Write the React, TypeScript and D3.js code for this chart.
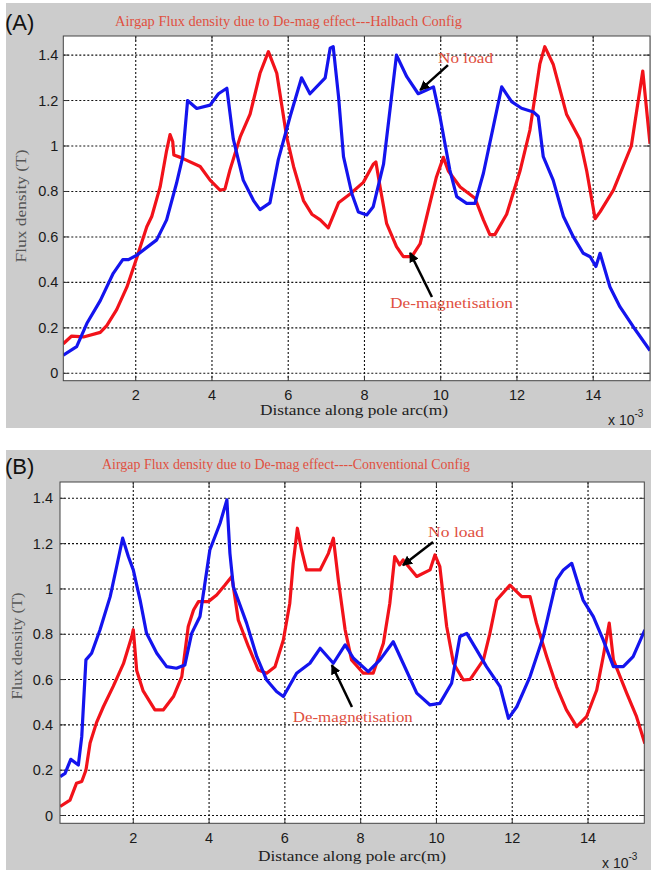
import React from 'react';
import * as d3 from 'd3';

// ---------- DATA ----------
const xTicks = [2, 4, 6, 8, 10, 12, 14];
const yTicks = [0, 0.2, 0.4, 0.6, 0.8, 1, 1.2, 1.4];
const yTickLabels = ['0', '0.2', '0.4', '0.6', '0.8', '1', '1.2', '1.4'];

// Panel A (Halbach) — red: de-magnetisation, blue: no load
const halbachDemag: [number, number][] = [
  [0.1, 0.13], [0.32, 0.164], [0.63, 0.16], [1.07, 0.18], [1.24, 0.21], [1.5, 0.28], [1.77, 0.38],
  [2.03, 0.51], [2.29, 0.645], [2.42, 0.69], [2.64, 0.82], [2.81, 0.98], [2.9, 1.05], [2.97, 1.02],
  [3.0, 0.96], [3.17, 0.95], [3.69, 0.91], [3.95, 0.85], [4.21, 0.806], [4.34, 0.81], [4.47, 0.894],
  [4.74, 1.04], [5.0, 1.14], [5.26, 1.32], [5.48, 1.415], [5.7, 1.32], [5.96, 1.04], [6.14, 0.91],
  [6.4, 0.76], [6.62, 0.7], [6.84, 0.675], [7.05, 0.64], [7.32, 0.75], [7.63, 0.79], [7.97, 0.84],
  [8.23, 0.92], [8.3, 0.93], [8.41, 0.82], [8.58, 0.66], [8.84, 0.557], [9.02, 0.513], [9.24, 0.513],
  [9.46, 0.57], [9.72, 0.75], [9.89, 0.865], [10.07, 0.95], [10.2, 0.89], [10.51, 0.82], [10.9, 0.77],
  [11.12, 0.675], [11.29, 0.61], [11.42, 0.61], [11.73, 0.7], [12.08, 0.89], [12.34, 1.07], [12.6, 1.36],
  [12.73, 1.437], [12.95, 1.36], [13.3, 1.14], [13.65, 1.03], [13.83, 0.89], [14.05, 0.68], [14.18, 0.71],
  [14.53, 0.806], [15.0, 1.0], [15.3, 1.33], [15.49, 1.01],
];
const halbachNoLoad: [number, number][] = [
  [0.1, 0.08], [0.45, 0.117], [0.72, 0.22], [1.07, 0.32], [1.41, 0.44], [1.66, 0.5], [1.81, 0.5],
  [2.03, 0.52], [2.55, 0.587], [2.81, 0.675], [3.07, 0.836], [3.23, 0.95], [3.36, 1.2], [3.6, 1.165],
  [3.95, 1.18], [4.17, 1.23], [4.39, 1.254], [4.56, 1.03], [4.82, 0.85], [5.09, 0.76], [5.26, 0.72],
  [5.52, 0.75], [5.74, 0.94], [6.05, 1.13], [6.35, 1.3], [6.57, 1.23], [6.97, 1.3], [7.1, 1.43],
  [7.18, 1.437], [7.32, 1.217], [7.45, 0.953], [7.67, 0.79], [7.84, 0.71], [8.06, 0.697], [8.23, 0.733],
  [8.5, 0.92], [8.71, 1.217], [8.84, 1.4], [9.11, 1.305], [9.41, 1.23], [9.63, 1.246], [9.81, 1.26],
  [9.98, 1.13], [10.24, 0.894], [10.42, 0.777], [10.68, 0.748], [10.9, 0.748], [11.12, 0.88], [11.38, 1.085],
  [11.6, 1.26], [11.86, 1.195], [12.12, 1.166], [12.43, 1.15], [12.56, 1.13], [12.69, 0.953], [12.95, 0.85],
  [13.22, 0.69], [13.48, 0.6], [13.74, 0.528], [13.92, 0.513], [14.07, 0.47], [14.18, 0.528], [14.44, 0.38],
  [14.7, 0.293], [15.05, 0.205], [15.49, 0.1],
];

// Panel B (Conventional) — red: no load, blue: de-magnetisation
const conventionalNoLoad: [number, number][] = [
  [0.07, 0.04], [0.33, 0.068], [0.5, 0.142], [0.64, 0.15], [0.75, 0.2], [0.86, 0.32], [1.03, 0.41],
  [1.21, 0.48], [1.47, 0.57], [1.74, 0.67], [1.96, 0.79], [2.0, 0.82], [2.09, 0.64], [2.26, 0.55],
  [2.57, 0.466], [2.79, 0.466], [3.06, 0.525], [3.28, 0.613], [3.45, 0.834], [3.59, 0.907], [3.72, 0.944],
  [3.98, 0.944], [4.2, 0.973], [4.42, 1.017], [4.6, 1.055], [4.68, 0.966], [4.77, 0.863], [5.04, 0.745],
  [5.3, 0.642], [5.52, 0.628], [5.74, 0.657], [5.96, 0.775], [6.13, 0.937], [6.22, 1.113], [6.33, 1.268],
  [6.44, 1.172], [6.57, 1.084], [6.93, 1.084], [7.15, 1.157], [7.28, 1.224], [7.41, 1.04], [7.59, 0.82],
  [7.76, 0.687], [8.07, 0.628], [8.33, 0.628], [8.6, 0.76], [8.77, 0.937], [8.9, 1.143], [9.03, 1.106],
  [9.12, 1.128], [9.48, 1.055], [9.83, 1.084], [9.96, 1.15], [10.09, 1.098], [10.27, 0.834], [10.45, 0.672],
  [10.71, 0.598], [10.89, 0.601], [11.24, 0.687], [11.41, 0.804], [11.59, 0.951], [11.94, 1.017],
  [12.25, 0.966], [12.47, 0.966], [12.64, 0.849], [12.91, 0.701], [13.17, 0.569], [13.43, 0.466],
  [13.7, 0.392], [13.96, 0.436], [14.23, 0.554], [14.4, 0.701], [14.56, 0.849], [14.67, 0.687],
  [15.02, 0.54], [15.28, 0.436], [15.5, 0.318],
];
const conventionalDemag: [number, number][] = [
  [0.07, 0.172], [0.2, 0.186], [0.35, 0.248], [0.55, 0.223], [0.64, 0.348], [0.75, 0.687], [0.9, 0.716],
  [1.12, 0.819], [1.39, 0.966], [1.56, 1.098], [1.72, 1.224], [1.87, 1.143], [2.0, 1.084], [2.18, 0.951],
  [2.35, 0.804], [2.62, 0.716], [2.88, 0.657], [3.14, 0.65], [3.36, 0.664], [3.54, 0.804], [3.76, 0.878],
  [4.02, 1.172], [4.29, 1.29], [4.47, 1.393], [4.55, 1.157], [4.64, 1.01], [4.99, 0.849], [5.26, 0.701],
  [5.52, 0.598], [5.78, 0.547], [5.96, 0.525], [6.31, 0.628], [6.66, 0.672], [6.93, 0.738], [7.28, 0.672],
  [7.59, 0.753], [7.81, 0.694], [8.2, 0.635], [8.51, 0.687], [8.86, 0.767], [9.12, 0.672], [9.48, 0.54],
  [9.83, 0.488], [10.09, 0.495], [10.4, 0.584], [10.62, 0.79], [10.8, 0.804], [11.06, 0.731], [11.32, 0.657],
  [11.68, 0.569], [11.9, 0.429], [12.12, 0.48], [12.47, 0.613], [12.82, 0.79], [13.17, 1.04], [13.35, 1.084],
  [13.57, 1.113], [13.87, 0.951], [14.14, 0.878], [14.4, 0.775], [14.67, 0.657], [14.93, 0.657],
  [15.19, 0.701], [15.5, 0.819],
];

const titleA = 'Airgap Flux density due to De-mag effect---Halbach Config';
const titleB = 'Airgap Flux density due to De-mag effect----Conventional Config';
const xLabel = 'Distance along pole arc(m)';
const yLabel = 'Flux density (T)';

// ---------- RENDERING ----------
type Pt = [number, number];
interface Ann { text: string; tx: number; ty: number; head: Pt; tail: Pt; tlen: number }
interface PanelCfg {
  id: string;
  tag: string;
  title: string;
  titleX: number; titleY: number; titleLen: number;
  bgTop: number; bgBottom: number;
  left: number; right: number; top: number; bottom: number;
  xDomain: [number, number]; yDomain: [number, number];
  red: Pt[]; blue: Pt[];
  ann: Ann[];
  yLabX: number; yLabY: number; yLabLen: number;
  xLabY: number; xLabX: number;
  tickLabY: number; yTickOff: number;
  expX: number; expY: number;
  tagY: number;
}

const RED = '#f2121a';
const BLUE = '#1414ee';
const TXT_RED = '#e0503f';

function Panel({ c }: { c: PanelCfg }) {
  const x = d3.scaleLinear().domain(c.xDomain).range([c.left, c.right]);
  const y = d3.scaleLinear().domain(c.yDomain).range([c.bottom, c.top]);
  const line = d3.line<Pt>().x(d => x(d[0])).y(d => y(d[1]));
  const tl = 5;
  return (
    <g>
      <rect x={6} y={c.bgTop} width={651 - 6} height={c.bgBottom - c.bgTop} fill="#cccccc" />
      <text x={5} y={c.tagY} fontFamily="Liberation Sans, Arial, sans-serif" fontSize={22} fill="#111">{c.tag}</text>
      <text x={c.titleX} y={c.titleY} fontFamily="Liberation Serif, Times New Roman, serif" fontSize={15}
        fill={TXT_RED} textLength={c.titleLen} lengthAdjust="spacingAndGlyphs">{c.title}</text>
      <rect x={c.left} y={c.top} width={c.right - c.left} height={c.bottom - c.top} fill="#fff" />
      <defs>
        <clipPath id={`clip-${c.id}`}>
          <rect x={c.left} y={c.top} width={c.right - c.left} height={c.bottom - c.top} />
        </clipPath>
        <marker id={`arr-${c.id}`} viewBox="0 0 10 10" refX={9} refY={5} markerWidth={4} markerHeight={4}
          orient="auto" markerUnits="strokeWidth">
          <path d="M0,0 L10,5 L0,10 z" fill="#000" />
        </marker>
      </defs>
      {/* grid */}
      {xTicks.map(t => (
        <line key={`gx${t}`} x1={x(t)} x2={x(t)} y1={c.top} y2={c.bottom} stroke="#111" strokeWidth={1.1} strokeDasharray="2,2" />
      ))}
      {yTicks.map(t => (
        <line key={`gy${t}`} x1={c.left} x2={c.right} y1={y(t)} y2={y(t)} stroke="#111" strokeWidth={1.1} strokeDasharray="2,2" />
      ))}
      {/* ticks */}
      {xTicks.map(t => (
        <g key={`tx${t}`}>
          <line x1={x(t)} x2={x(t)} y1={c.bottom} y2={c.bottom - tl} stroke="#333" />
          <line x1={x(t)} x2={x(t)} y1={c.top} y2={c.top + tl} stroke="#333" />
          <text x={x(t)} y={c.tickLabY} textAnchor="middle" fontFamily="Liberation Sans, Arial, sans-serif" fontSize={14.5} fill="#1a1a1a">{t}</text>
        </g>
      ))}
      {yTicks.map((t, i) => (
        <g key={`ty${t}`}>
          <line x1={c.left} x2={c.left + tl} y1={y(t)} y2={y(t)} stroke="#333" />
          <line x1={c.right} x2={c.right - tl} y1={y(t)} y2={y(t)} stroke="#333" />
          <text x={c.left - c.yTickOff} y={y(t) + 5} textAnchor="end" fontFamily="Liberation Sans, Arial, sans-serif" fontSize={14.5} fill="#1a1a1a">{yTickLabels[i]}</text>
        </g>
      ))}
      {/* curves */}
      <g clipPath={`url(#clip-${c.id})`}>
        <path d={line(c.red) || ''} fill="none" stroke={RED} strokeWidth={3.2} strokeLinejoin="round" />
        <path d={line(c.blue) || ''} fill="none" stroke={BLUE} strokeWidth={3.2} strokeLinejoin="round" />
      </g>
      <rect x={c.left} y={c.top} width={c.right - c.left} height={c.bottom - c.top} fill="none" stroke="#444" strokeWidth={1} />
      {/* annotations */}
      {c.ann.map((a, i) => (
        <g key={`a${i}`}>
          <text x={x(a.tx)} y={y(a.ty)} fontFamily="Liberation Serif, Times New Roman, serif" fontSize={15}
            fill={TXT_RED} textLength={a.tlen} lengthAdjust="spacingAndGlyphs">{a.text}</text>
          <line x1={x(a.tail[0])} y1={y(a.tail[1])} x2={x(a.head[0])} y2={y(a.head[1])}
            stroke="#000" strokeWidth={2.5} markerEnd={`url(#arr-${c.id})`} />
        </g>
      ))}
      {/* axis labels */}
      <text x={c.xLabX} y={c.xLabY} fontFamily="Liberation Serif, Times New Roman, serif" fontSize={15}
        fill="#222" textLength={188} lengthAdjust="spacingAndGlyphs">{xLabel}</text>
      <text transform={`translate(${c.yLabX},${c.yLabY}) rotate(-90)`} textAnchor="middle"
        fontFamily="Liberation Serif, Times New Roman, serif" fontSize={15} fill="#555"
        textLength={c.yLabLen} lengthAdjust="spacingAndGlyphs">{yLabel}</text>
      <text x={c.expX} y={c.expY} fontFamily="Liberation Sans, Arial, sans-serif" fontSize={14} fill="#222">
        x 10<tspan dy={-8} fontSize={10}>-3</tspan>
      </text>
    </g>
  );
}

const panelA: PanelCfg = {
  id: 'a', tag: '(A)', title: titleA, titleX: 115, titleY: 26, titleLen: 347,
  bgTop: 3, bgBottom: 428,
  left: 63.3, right: 650, top: 36, bottom: 380.7,
  xDomain: [0.1, 15.49], yDomain: [-0.0325, 1.484],
  red: halbachDemag, blue: halbachNoLoad,
  ann: [
    { text: 'No load', tx: 9.93, ty: 1.365, tail: [10.19, 1.356], head: [9.46, 1.246], tlen: 55 },
    { text: 'De-magnetisation', tx: 8.67, ty: 0.287, tail: [9.77, 0.336], head: [9.197, 0.53], tlen: 123 },
  ],
  yLabX: 26, yLabY: 206, yLabLen: 113,
  xLabX: 260, xLabY: 415, tickLabY: 400, yTickOff: 5,
  expX: 608, expY: 425, tagY: 30,
};

const panelB: PanelCfg = {
  id: 'b', tag: '(B)', title: titleB, titleX: 102, titleY: 469, titleLen: 368,
  bgTop: 450, bgBottom: 870,
  left: 60, right: 644.3, top: 482, bottom: 823.3,
  xDomain: [0.066, 15.485], yDomain: [-0.0344, 1.472],
  red: conventionalNoLoad, blue: conventionalDemag,
  ann: [
    { text: 'No load', tx: 9.78, ty: 1.229, tail: [9.91, 1.207], head: [9.115, 1.105], tlen: 56 },
    { text: 'De-magnetisation', tx: 6.21, ty: 0.413, tail: [7.77, 0.479], head: [7.24, 0.664], tlen: 120 },
  ],
  yLabX: 22, yLabY: 646, yLabLen: 107,
  xLabX: 258, xLabY: 861, tickLabY: 843, yTickOff: 7,
  expX: 602, expY: 868, tagY: 474,
};

export default function App() {
  return (
    <svg width={651} height={870} viewBox="0 0 651 870"
      style={{ position: 'absolute', left: 0, top: 0, display: 'block', background: '#fff' }}>
      <Panel c={panelA} />
      <Panel c={panelB} />
    </svg>
  );
}
